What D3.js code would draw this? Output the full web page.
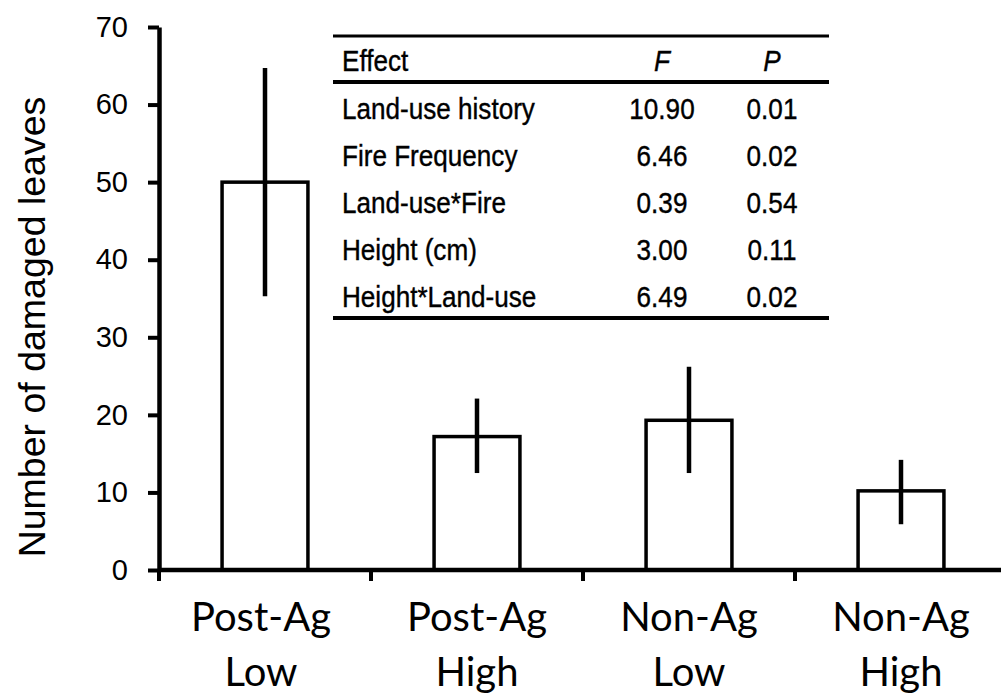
<!DOCTYPE html>
<html>
<head>
<meta charset="utf-8">
<script src="https://cdn.jsdelivr.net/npm/d3@7"></script>
<style>
  html, body { margin: 0; padding: 0; background: #fff; }
  svg { display: block; }
</style>
</head>
<body>
<svg id="chart" width="1001" height="697"></svg>
<script>
// Mean number of damaged leaves per treatment, with error bar limits
const categories = [["Post-Ag", "Low"], ["Post-Ag", "High"], ["Non-Ag", "Low"], ["Non-Ag", "High"]];
const means = [50.0, 17.2, 19.3, 10.2];
const upper = [64.7, 22.1, 26.2, 14.2];
const lower = [35.3, 12.5, 12.5, 5.9];
const yTicks = [0, 10, 20, 30, 40, 50, 60, 70];

// ANOVA summary table
const tableHeader = ["Effect", "F", "P"];
const effects = ["Land-use history", "Fire Frequency", "Land-use*Fire", "Height (cm)", "Height*Land-use"];
const fValues = ["10.90", "6.46", "0.39", "3.00", "6.49"];
const pValues = ["0.01", "0.02", "0.54", "0.11", "0.02"];

const svg = d3.select("#chart");
const plotLeft = 159, plotBottom = 570, plotTop = 27, bandW = 212;

const x = d3.scaleBand()
  .domain(categories.map((d, i) => i))
  .range([plotLeft, plotLeft + bandW * categories.length])
  .paddingInner(0.595).paddingOuter(0.2975);

const xAxisBand = d3.scaleBand()
  .domain(categories.map((d, i) => i))
  .range([plotLeft, plotLeft + bandW * categories.length]);

const y = d3.scaleLinear().domain([0, 70]).range([plotBottom, plotTop]);

// bars
svg.selectAll("rect.bar").data(means).join("rect")
  .attr("class", "bar")
  .attr("x", (d, i) => x(i))
  .attr("width", x.bandwidth())
  .attr("y", d => y(d))
  .attr("height", d => y(0) - y(d))
  .attr("fill", "#fff")
  .attr("stroke", "#000")
  .attr("stroke-width", 3.5);

// error bars
svg.selectAll("line.err").data(means).join("line")
  .attr("class", "err")
  .attr("x1", (d, i) => x(i) + x.bandwidth() / 2)
  .attr("x2", (d, i) => x(i) + x.bandwidth() / 2)
  .attr("y1", (d, i) => y(upper[i]))
  .attr("y2", (d, i) => y(lower[i]))
  .attr("stroke", "#000")
  .attr("stroke-width", 4.5);

// y axis
const yAxis = svg.append("g").attr("transform", `translate(${plotLeft},0)`)
  .call(d3.axisLeft(y).tickValues(yTicks).tickSize(11).tickPadding(20).tickSizeOuter(0));
yAxis.select(".domain").attr("stroke-width", 4.5);
yAxis.selectAll(".tick line").attr("stroke-width", 4);
yAxis.selectAll(".tick text")
  .attr("font-family", "Liberation Sans, Arial, sans-serif")
  .attr("font-size", 29).attr("fill", "#000");

// x axis: ticks at category boundaries
const xBoundaries = categories.map((d, i) => xAxisBand(i));
const xLine = svg.append("g");
xLine.append("line")
  .attr("x1", plotLeft).attr("x2", 1001)
  .attr("y1", plotBottom).attr("y2", plotBottom)
  .attr("stroke", "#000").attr("stroke-width", 4.5);
xLine.selectAll("line.tick").data(xBoundaries).join("line")
  .attr("class", "tick")
  .attr("x1", d => d).attr("x2", d => d)
  .attr("y1", plotBottom).attr("y2", plotBottom + 11)
  .attr("stroke", "#000").attr("stroke-width", 4);

// category labels, two lines each
const xl = svg.selectAll("text.cat").data(categories).join("text")
  .attr("class", "cat")
  .attr("text-anchor", "middle")
  .attr("font-family", "Lato, 'Open Sans', sans-serif")
  .attr("font-size", 40)
  .attr("fill", "#000");
xl.append("tspan").attr("x", (d, i) => xAxisBand(i) + bandW / 2 - (i === 0 ? 4 : 0)).attr("y", 631).text(d => d[0]);
xl.append("tspan").attr("x", (d, i) => xAxisBand(i) + bandW / 2 - (i === 0 ? 4 : 0)).attr("y", 686).text(d => d[1]);

// y axis title
svg.append("text")
  .attr("transform", "translate(45,327) rotate(-90)")
  .attr("text-anchor", "middle")
  .attr("font-family", "Liberation Sans, Arial, sans-serif")
  .attr("font-size", 37.5)
  .attr("fill", "#000")
  .text("Number of damaged leaves");

// summary table
const tX0 = 333, tX1 = 829;
const colEffect = 342, colF = 662, colP = 772;
const headY = 71, row0 = 119, rowStep = 46.9;
const tbl = svg.append("g");
[[36, 3], [82, 4], [318, 4]].forEach(([ly, w]) => {
  tbl.append("line").attr("x1", tX0).attr("x2", tX1).attr("y1", ly).attr("y2", ly)
    .attr("stroke", "#000").attr("stroke-width", w);
});

function cell(txt, cx, cy, anchor, italic) {
  tbl.append("text")
    .attr("transform", `translate(${cx},${cy}) scale(0.87,1)`)
    .attr("text-anchor", anchor)
    .attr("font-family", "Liberation Sans, Arial, sans-serif")
    .attr("font-size", 30)
    .attr("font-style", italic ? "italic" : "normal")
    .attr("fill", "#000")
    .attr("stroke", "#000")
    .attr("stroke-width", 0.4)
    .text(txt);
}
cell(tableHeader[0], colEffect, headY, "start", false);
cell(tableHeader[1], colF, headY, "middle", true);
cell(tableHeader[2], colP, headY, "middle", true);
effects.forEach((e, i) => {
  const ry = row0 + i * rowStep;
  cell(e, colEffect, ry, "start", false);
  cell(fValues[i], colF, ry, "middle", false);
  cell(pValues[i], colP, ry, "middle", false);
});
</script>
</body>
</html>
